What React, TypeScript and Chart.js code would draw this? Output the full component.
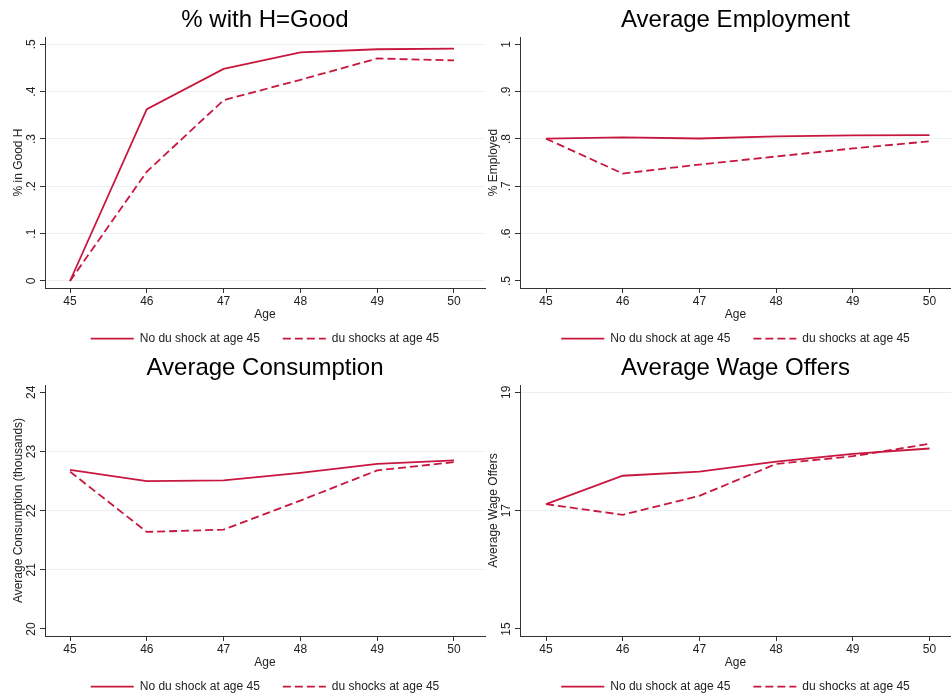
import React, { useEffect, useRef } from "react";
import { Chart, registerables } from "chart.js";

Chart.register(...registerables);
Chart.defaults.font.family = "'Liberation Sans', Arial, Helvetica, sans-serif";

// ---------- data ----------
const ages = [45, 46, 47, 48, 49, 50];
const legendLabels = ["No du shock at age 45", "du shocks at age 45"];

const goodHNoShock = [0, 0.363, 0.448, 0.483, 0.4895, 0.491];
const goodHShock = [0, 0.231, 0.382, 0.425, 0.47, 0.466];

const employNoShock = [0.8007, 0.8035, 0.801, 0.8056, 0.8077, 0.808];
const employShock = [0.8007, 0.727, 0.746, 0.763, 0.78, 0.795];

const consNoShock = [22.69, 22.5, 22.51, 22.64, 22.79, 22.85];
const consShock = [22.66, 21.64, 21.68, 22.17, 22.68, 22.82];

const wageNoShock = [17.11, 17.59, 17.66, 17.83, 17.96, 18.05];
const wageShock = [17.11, 16.93, 17.25, 17.79, 17.92, 18.13];

const goodHTicks = [0, 0.1, 0.2, 0.3, 0.4, 0.5];
const goodHTickLabels = ["0", ".1", ".2", ".3", ".4", ".5"];
const goodHGrid = [0, 0.1, 0.2, 0.3, 0.4, 0.5];

const employTicks = [0.5, 0.6, 0.7, 0.8, 0.9, 1];
const employTickLabels = [".5", ".6", ".7", ".8", ".9", "1"];
const employGrid = [0.6, 0.7, 0.8, 0.9];

const consTicks = [20, 21, 22, 23, 24];
const consTickLabels = ["20", "21", "22", "23", "24"];
const consGrid = [21, 22, 23];

const wageTicks = [15, 17, 19];
const wageTickLabels = ["15", "17", "19"];
const wageGrid = [17, 19];

// ---------- styles ----------
const LINE_COLOR = "#c8173f";
const AXIS_COLOR = "#333333";
const GRID_COLOR = "#e8f0f1";
const TEXT_COLOR = "#222222";
const LINE_WIDTH = 1.8;
const DASH = [8, 4];
const CANVAS_H = 349;

type Panel = {
  title: string;
  yTitle: string;
  noShock: number[];
  shock: number[];
  yTicks: number[];
  yLabels: string[];
  yGrid: number[];
  yMin: number;
  yMax: number;
  xMin: number;
  xMax: number;
  left: number;
  top: number;
  width: number;
  padRight: number;
  yTickPad: number;
};

const panels: Panel[] = [
  {
    title: "% with H=Good",
    yTitle: "% in Good H",
    noShock: goodHNoShock,
    shock: goodHShock,
    yTicks: goodHTicks,
    yLabels: goodHTickLabels,
    yGrid: goodHGrid,
    yMin: -0.01479,
    yMax: 0.5154,
    xMin: 44.674,
    xMax: 50.404,
    left: 0,
    top: 0,
    width: 486,
    padRight: 1,
    yTickPad: 3,
  },
  {
    title: "Average Employment",
    yTitle: "% Employed",
    noShock: employNoShock,
    shock: employShock,
    yTicks: employTicks,
    yLabels: employTickLabels,
    yGrid: employGrid,
    yMin: 0.48521,
    yMax: 1.0154,
    xMin: 44.661,
    xMax: 50.28,
    left: 475,
    top: 0,
    width: 476,
    padRight: 0,
    yTickPad: 3,
  },
  {
    title: "Average Consumption",
    yTitle: "Average Consumption (thousands)",
    noShock: consNoShock,
    shock: consShock,
    yTicks: consTicks,
    yLabels: consTickLabels,
    yGrid: consGrid,
    yMin: 19.8817,
    yMax: 24.1234,
    xMin: 44.674,
    xMax: 50.404,
    left: 0,
    top: 348,
    width: 486,
    padRight: 1,
    yTickPad: 1.3,
  },
  {
    title: "Average Wage Offers",
    yTitle: "Average Wage Offers",
    noShock: wageNoShock,
    shock: wageShock,
    yTicks: wageTicks,
    yLabels: wageTickLabels,
    yGrid: wageGrid,
    yMin: 14.8817,
    yMax: 19.1234,
    xMin: 44.661,
    xMax: 50.28,
    left: 475,
    top: 348,
    width: 476,
    padRight: 0,
    yTickPad: 1.3,
  },
];

const near = (a: number, b: number) => Math.abs(a - b) < 1e-9;

function PanelChart({ p }: { p: Panel }) {
  const ref = useRef<HTMLCanvasElement | null>(null);

  useEffect(() => {
    if (!ref.current) return;
    const chart = new Chart(ref.current, {
      type: "line",
      data: {
        datasets: [
          {
            label: legendLabels[0],
            data: ages.map((a, i) => ({ x: a, y: p.noShock[i] })),
            borderColor: LINE_COLOR,
            backgroundColor: LINE_COLOR,
            borderWidth: LINE_WIDTH,
            pointRadius: 0,
            pointHoverRadius: 0,
            tension: 0,
            fill: false,
          },
          {
            label: legendLabels[1],
            data: ages.map((a, i) => ({ x: a, y: p.shock[i] })),
            borderColor: LINE_COLOR,
            backgroundColor: LINE_COLOR,
            borderWidth: LINE_WIDTH,
            borderDash: DASH,
            pointRadius: 0,
            pointHoverRadius: 0,
            tension: 0,
            fill: false,
          },
        ],
      },
      options: {
        responsive: false,
        animation: false,
        events: [],
        devicePixelRatio: 1,
        layout: { padding: { left: 0, top: 0, right: p.padRight, bottom: -5.7 } },
        scales: {
          x: {
            type: "linear",
            position: "bottom",
            min: p.xMin,
            max: p.xMax,
            afterBuildTicks: (s: any) => {
              s.ticks = ages.map((v) => ({ value: v }));
            },
            afterFit: (s: any) => {
              s.height = 21.7;
            },
            ticks: {
              autoSkip: false,
              maxRotation: 0,
              padding: 2.5,
              color: TEXT_COLOR,
              font: { size: 12, lineHeight: 1 },
              callback: (v: any) => String(v),
            },
            grid: {
              drawOnChartArea: false,
              drawTicks: true,
              tickLength: 5,
              color: AXIS_COLOR,
              tickColor: AXIS_COLOR,
            },
            border: { display: true, color: AXIS_COLOR, width: 1 },
            title: {
              display: true,
              text: "Age",
              color: TEXT_COLOR,
              font: { size: 12, lineHeight: 1 },
              padding: { top: 0, bottom: -10.5 },
            },
          },
          y: {
            type: "linear",
            position: "left",
            min: p.yMin,
            max: p.yMax,
            afterBuildTicks: (s: any) => {
              s.ticks = p.yTicks.map((v) => ({ value: v }));
            },
            afterFit: (s: any) => {
              s.width = 45;
            },
            ticks: {
              autoSkip: false,
              minRotation: 90,
              maxRotation: 90,
              crossAlign: "center",
              padding: p.yTickPad,
              color: TEXT_COLOR,
              font: { size: 12, lineHeight: 1 },
              callback: (v: any) => {
                const i = p.yTicks.findIndex((t) => near(t, Number(v)));
                return i >= 0 ? p.yLabels[i] : "";
              },
            },
            grid: {
              drawOnChartArea: true,
              drawTicks: true,
              tickLength: 5,
              tickColor: AXIS_COLOR,
              lineWidth: 1,
              color: (ctx: any) => {
                const v = ctx && ctx.tick ? ctx.tick.value : NaN;
                return p.yGrid.some((g) => near(g, v)) ? GRID_COLOR : "rgba(0,0,0,0)";
              },
            },
            border: { display: true, color: AXIS_COLOR, width: 1 },
            title: {
              display: true,
              text: p.yTitle,
              color: TEXT_COLOR,
              font: { size: 12, lineHeight: 1 },
              padding: { top: 13, bottom: 0 },
            },
          },
        },
        plugins: {
          tooltip: { enabled: false },
          title: {
            display: true,
            text: p.title,
            color: "#000000",
            fullSize: false,
            font: { size: 24, weight: "normal", lineHeight: 1.2 },
            padding: { top: 5.6, bottom: 2.6 },
          },
          legend: {
            display: true,
            position: "bottom",
            fullSize: false,
            labels: {
              usePointStyle: true,
              pointStyle: "line",
              pointStyleWidth: 43,
              padding: 23,
              color: TEXT_COLOR,
              font: { size: 12 },
              generateLabels: (c: any) => {
                const items = Chart.defaults.plugins.legend.labels.generateLabels(c);
                return items.map((it: any) => {
                  const ds: any = c.data.datasets[it.datasetIndex];
                  return {
                    ...it,
                    lineDash: ds.borderDash || [],
                    lineWidth: ds.borderWidth,
                    strokeStyle: ds.borderColor,
                    fillStyle: ds.borderColor,
                    pointStyle: "line",
                  };
                });
              },
            },
          },
        },
      } as any,
    });
    return () => chart.destroy();
  }, [p]);

  return (
    <canvas
      ref={ref}
      width={p.width}
      height={CANVAS_H}
      style={{
        position: "absolute",
        left: p.left,
        top: p.top,
        width: p.width,
        height: CANVAS_H,
      }}
    />
  );
}

export default function App() {
  return (
    <div
      style={{
        position: "absolute",
        left: 0,
        top: 0,
        width: 951,
        height: 698,
        background: "#ffffff",
        overflow: "hidden",
      }}
    >
      {panels.map((p, i) => (
        <PanelChart key={i} p={p} />
      ))}
    </div>
  );
}
